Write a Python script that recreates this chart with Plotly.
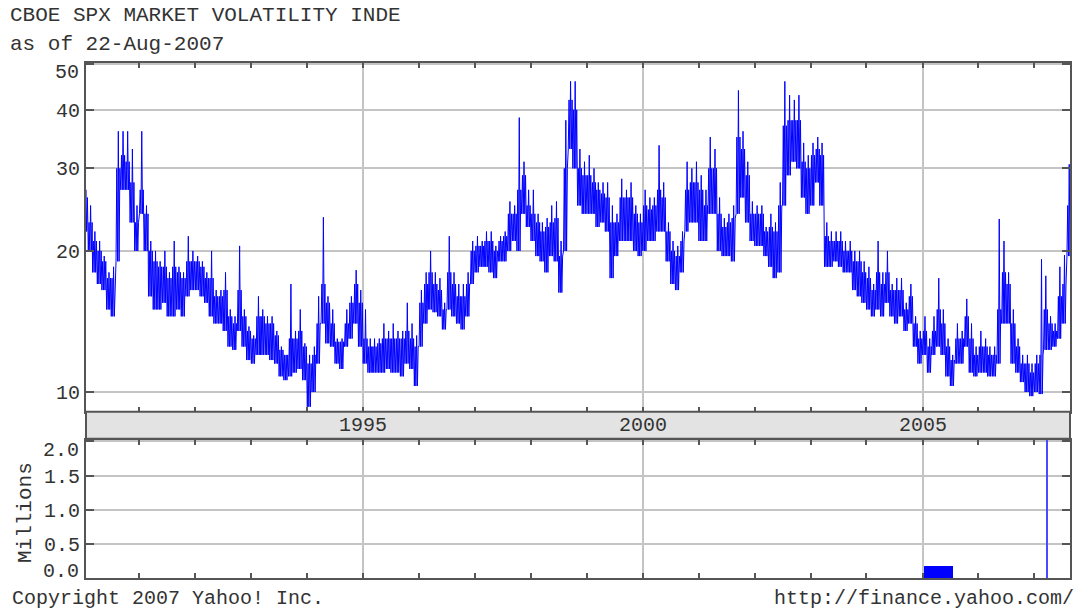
import pandas as pd
import plotly.graph_objects as go

# ---------------- data ----------------
months = pd.date_range("1990-01-01", "2007-08-01", freq="MS")

# monthly low of the index
vix_low = [
    22, 20, 18, 17, 16.5, 15, 14.5, 19, 27, 27, 23, 20,            # 1990
    24, 20, 16, 15, 15, 15.5, 14.5, 14.5, 15, 14.5, 16, 16.5,      # 1991
    16.5, 16, 15.5, 14.5, 14, 14, 13.5, 12.5, 12.3, 13.5, 12.5, 11.7,  # 1992
    11.5, 12, 12, 12, 11.7, 11.5, 10.8, 10.6, 10.8, 11, 11.2, 10.6,    # 1993
    9.3, 10, 11.5, 14, 12.7, 12.5, 11.5, 11.2, 12.5, 13, 14, 12.5,     # 1994
    11.5, 11, 11, 11, 11, 11.2, 11, 11, 10.8, 11.5, 11.2, 10.3,        # 1995
    12.5, 14, 15, 14.8, 14.5, 13.6, 15, 14.5, 14, 13.6, 14.5, 17,      # 1996
    18, 18.5, 18.5, 18, 17.5, 19, 19, 20, 21, 20, 24, 22.5,            # 1997
    21, 19.5, 19, 18, 19.5, 19, 16.3, 20, 33, 30, 25, 24,              # 1998
    24, 24, 22.5, 23, 22, 17.5, 19.5, 21, 21, 21, 20, 19.5,            # 1999
    20, 21, 21, 22, 22, 19, 17, 16.5, 18, 22, 23, 23,                  # 2000
    21, 21, 24, 24, 20, 19.5, 19.5, 19, 24, 26, 23, 21,                # 2001
    20.5, 20.5, 19.5, 18.5, 17.5, 18, 25, 29, 31, 30, 26, 24,          # 2002
    25, 28, 25, 18.5, 18.5, 19, 18.5, 18, 18, 16.5, 16, 15.5,          # 2003
    15, 14.5, 15, 14.5, 15.5, 14.5, 14, 14.5, 13.5, 14, 12.5, 11.5,    # 2004
    12, 11, 12, 12.5, 12, 10.8, 10.3, 11.5, 11.5, 12.5, 11, 10.8,      # 2005
    11, 11, 10.8, 10.8, 11.5, 14, 14, 11.5, 11, 10.5, 10, 9.8,         # 2006
    10, 9.9, 12.3, 12.3, 12.5, 13, 14, 19.5,                           # 2007
]
# monthly typical upper edge of the dense band
vix_high = [
    26, 23, 21, 20, 19, 17.5, 17.5, 30, 32, 31, 28, 23,                # 1990
    27, 24, 20, 19, 18.5, 18.5, 17.5, 18.5, 18, 17.5, 19, 19,          # 1991
    19, 18.5, 17.5, 17.5, 16, 16, 16.5, 14.5, 14, 16.5, 14.5, 13.5,    # 1992
    13, 14.5, 14.5, 14, 14, 13.2, 12.3, 12, 13, 13, 13.5, 12.5,        # 1993
    11.5, 12, 14, 17, 15.5, 14, 12.8, 12.8, 14, 15.5, 17, 15.5,        # 1994
    13, 12.5, 12.5, 12.7, 13, 13, 13, 13, 13, 13.5, 13, 12.5,          # 1995
    15.5, 17, 18, 17, 16.5, 15, 18, 17, 16, 16, 17, 20,                # 1996
    20.5, 20.5, 21, 21, 20, 21, 21.5, 24, 24, 27, 29, 25,              # 1997
    24, 23, 22, 22.5, 23, 23.5, 19.5, 30, 42, 40, 30, 29,              # 1998
    29, 28, 27, 26.5, 26, 23, 23, 26, 26, 26, 24, 23,                  # 1999
    25, 24.5, 25, 27, 26, 22, 20, 19.5, 21, 27, 28, 28,                # 2000
    27, 25, 30, 30, 24, 22.5, 23, 23.5, 35, 33, 29, 24,                # 2001
    24, 24, 22, 22.5, 22, 25, 37, 38, 38, 38, 31, 30,                  # 2002
    32, 33, 32, 21.5, 21, 21, 21, 20, 20, 19, 19, 18,                  # 2003
    17.5, 16.5, 18, 17, 18, 16.5, 16.5, 16.5, 15, 16, 14, 13,          # 2004
    13.5, 12.5, 13.5, 15, 14, 12.5, 11.7, 13, 13, 14.5, 13, 12,        # 2005
    12.5, 12.5, 12, 12, 15, 18, 17, 14, 12.5, 11.5, 11.5, 11,          # 2006
    11.5, 12, 15, 14, 13.5, 16, 17, 25,                                # 2007
]
# monthly peak (single spikes above the band)
vix_peak = [
    27, 25, 22, 21, 19.5, 18, 18.5, 36, 36, 36, 33, 25,                # 1990
    36, 25, 21, 20, 19, 20, 18, 21, 18.5, 18, 21.5, 20,                # 1991
    19.5, 19, 18, 20, 16.5, 16.5, 18, 15, 14.5, 20.5, 15, 13.8,        # 1992
    13.2, 16, 15, 14.5, 14.5, 13.5, 12.5, 12, 17, 13.5, 15, 12.7,      # 1993
    12, 12.5, 16, 23.6, 16, 15, 13, 13, 15, 16, 18.2, 16.5,            # 1994
    15, 13, 13, 13, 14, 13.5, 14, 13.5, 13.5, 15.5, 14, 13.2,          # 1995
    16.5, 18, 20, 18, 17.5, 15.5, 21.5, 18, 17, 17, 18, 21,            # 1996
    21.5, 21, 22, 22, 20.5, 21.5, 22, 25.5, 25, 38.5, 31, 27,          # 1997
    27, 24, 23, 23.5, 25, 25.5, 21, 38, 46, 46, 33, 31,                # 1998
    32, 30, 28, 28, 28, 25, 24, 28.5, 27, 28, 25, 24,                  # 1999
    27, 26, 26, 33.6, 28, 23, 21, 20.5, 22, 31, 30, 31,                # 2000
    29, 27, 35, 33, 26, 23.5, 24, 25, 44, 36, 31, 25.5,                # 2001
    25, 25, 22.5, 24, 23, 28, 46, 43, 42, 43, 34, 32,                  # 2002
    34, 35, 34, 23, 22, 22, 22, 21, 21, 20, 20, 19,                    # 2003
    18.5, 17, 21, 18, 20, 17, 17.5, 17.5, 15.5, 17, 14.5, 13.5,        # 2004
    14.5, 13, 14.5, 17.5, 15, 13, 12, 14, 13.5, 15.8, 14, 12.5,        # 2005
    13.5, 13, 12.5, 12.5, 23.4, 21, 18, 15, 13, 12, 12, 11.5,          # 2006
    12, 19.2, 17.7, 14.5, 14, 18.5, 19.6, 30.6,                        # 2007
]

vol_dates = ["2005-04-18", "2007-03-28"]
vol_millions = [0.17, 2.3]
vol_widths_days = [190, 9]

price_ticks = [10, 20, 30, 40, 50]
price_tick_text = ["10", "20", "30", "40", ""]      # "50" is drawn as a text below the frame top
vol_ticks = [0, 0.5, 1.0, 1.5, 2.0]
vol_tick_text = ["", "0.5", "1.0", "1.5", ""]       # end labels drawn nudged inward
year_labels = ["1995", "2000", "2005"]

# ---------------- build series (oscillate within each month's read range) ----------------
x_pts, y_pts = [], []
for m, lo, hi, pk in zip(months, vix_low, vix_high, vix_peak):
    for day, val in ((1, lo), (6, hi), (11, lo), (16, pk), (21, lo), (26, hi)):
        x_pts.append(m + pd.Timedelta(days=day))
        y_pts.append(val)

FONT = "Liberation Mono"
TXT = "#333333"
FRAME = "#555555"
GRID = "#c4c4c4"
X_RANGE = ["1990-01-18", "2007-08-22"]

fig = go.Figure()
fig.add_trace(go.Scatter(x=x_pts, y=y_pts, mode="lines",
                         line=dict(color="#0000ff", width=1),
                         xaxis="x", yaxis="y", showlegend=False))
fig.add_trace(go.Bar(x=vol_dates, y=vol_millions,
                     width=[d * 86400000 for d in vol_widths_days],
                     marker=dict(color=["#0000ff", "#4a4aff"], line=dict(width=0)),
                     xaxis="x2", yaxis="y2", showlegend=False))

xcommon = dict(type="date", range=X_RANGE, showticklabels=False,
               tick0="1995-01-01", dtick="M60", ticks="inside", ticklen=5,
               tickcolor=FRAME, tickwidth=2,
               showgrid=True, gridcolor=GRID, gridwidth=2,
               minor=dict(dtick="M12", tick0="1990-01-01", ticks="inside",
                          ticklen=5, tickcolor=FRAME, tickwidth=2, showgrid=False),
               showline=True, linecolor=FRAME, linewidth=2, mirror="allticks",
               zeroline=False, fixedrange=True)

fig.update_layout(
    width=1084, height=610,
    margin=dict(l=86, r=12, t=63, b=32),
    paper_bgcolor="white", plot_bgcolor="white",
    font=dict(family=FONT, size=20, color=TXT),
    bargap=0,
    xaxis=dict(anchor="y", domain=[0, 1], **xcommon),
    xaxis2=dict(anchor="y2", domain=[0, 1], matches="x", **xcommon),
    yaxis=dict(domain=[0.3229, 1], type="log", range=[0.958, 1.702],
               tickvals=price_ticks, ticktext=price_tick_text,
               ticks="inside", ticklen=8, tickcolor=FRAME, tickwidth=2,
               showgrid=True, gridcolor=GRID, gridwidth=2,
               showline=True, linecolor=FRAME, linewidth=2, mirror="ticks",
               zeroline=False, tickfont=dict(family=FONT, size=20, color=TXT)),
    yaxis2=dict(domain=[0, 0.268], range=[0, 2.02],
                tickvals=vol_ticks, ticktext=vol_tick_text,
                ticks="inside", ticklen=8, tickcolor=FRAME, tickwidth=2,
                showgrid=True, gridcolor=GRID, gridwidth=2,
                showline=True, linecolor=FRAME, linewidth=2, mirror="ticks",
                zeroline=False, tickfont=dict(family=FONT, size=20, color=TXT)),
)

# gray date strip between the two panels
fig.add_shape(type="rect", xref="paper", yref="paper",
              x0=0, x1=1, y0=0.2705, y1=0.3229,
              fillcolor="#e3e3e3", line=dict(color=FRAME, width=2), layer="above")

for lbl in year_labels:
    fig.add_annotation(x=f"{lbl}-01-01", xref="x", y=0.2967, yref="paper",
                       text=lbl, showarrow=False, xanchor="center", yanchor="middle",
                       font=dict(family=FONT, size=20, color=TXT))

# end tick labels nudged inward, as in the original
LBLX = -0.0055
fig.add_annotation(x=LBLX, xref="paper", y=0.9806, yref="paper", text="50",
                   showarrow=False, xanchor="right", yanchor="middle",
                   font=dict(family=FONT, size=20, color=TXT))
fig.add_annotation(x=LBLX, xref="paper", y=0.2485, yref="paper", text="2.0",
                   showarrow=False, xanchor="right", yanchor="middle",
                   font=dict(family=FONT, size=20, color=TXT))
fig.add_annotation(x=LBLX, xref="paper", y=0.0117, yref="paper", text="0.0",
                   showarrow=False, xanchor="right", yanchor="middle",
                   font=dict(family=FONT, size=20, color=TXT))

fig.add_annotation(x=-0.0791, xref="paper", y=1.0913, yref="paper",
                   text="CBOE SPX MARKET VOLATILITY INDE", showarrow=False,
                   xanchor="left", yanchor="middle",
                   font=dict(family=FONT, size=21, color=TXT))
fig.add_annotation(x=-0.0791, xref="paper", y=1.035, yref="paper",
                   text="as of 22-Aug-2007", showarrow=False,
                   xanchor="left", yanchor="middle",
                   font=dict(family=FONT, size=21, color=TXT))
fig.add_annotation(x=-0.0772, xref="paper", y=-0.0395, yref="paper",
                   text="Copyright 2007 Yahoo! Inc.", showarrow=False,
                   xanchor="left", yanchor="middle",
                   font=dict(family=FONT, size=20, color=TXT))
fig.add_annotation(x=1.006, xref="paper", y=-0.0395, yref="paper",
                   text="http://finance.yahoo.com/", showarrow=False,
                   xanchor="right", yanchor="middle",
                   font=dict(family=FONT, size=20, color=TXT))
fig.add_annotation(x=-0.062, xref="paper", y=0.128, yref="paper",
                   text="Millions", showarrow=False, textangle=-90,
                   xanchor="center", yanchor="middle",
                   font=dict(family=FONT, size=21, color=TXT))

fig.write_html("out.html",
               config={"displayModeBar": False},
               post_script="document.body.style.margin='0';document.body.style.padding='0';")
